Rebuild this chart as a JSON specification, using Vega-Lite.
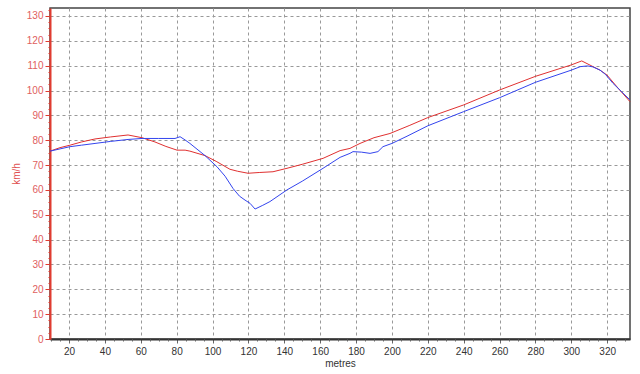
{
  "$schema": "https://vega.github.io/schema/vega-lite/v6.json",
  "autosize": {"type": "none"},
  "width": 580,
  "height": 331,
  "padding": {"left": 50, "top": 8, "right": 10, "bottom": 35},
  "background": "white",
  "config": {
    "view": {"stroke": "#444444", "strokeWidth": 1.5},
    "font": "Liberation Sans"
  },
  "data": {
    "values": [
      {"m": 9.4, "v": 75.6, "s": "red"},
      {"m": 15, "v": 77, "s": "red"},
      {"m": 20.6, "v": 78, "s": "red"},
      {"m": 27, "v": 79.3, "s": "red"},
      {"m": 34.5, "v": 80.5, "s": "red"},
      {"m": 43, "v": 81.3, "s": "red"},
      {"m": 52.9, "v": 82.1, "s": "red"},
      {"m": 60.7, "v": 81, "s": "red"},
      {"m": 67.9, "v": 79.3, "s": "red"},
      {"m": 74, "v": 77.5, "s": "red"},
      {"m": 80.2, "v": 76, "s": "red"},
      {"m": 84.7, "v": 76, "s": "red"},
      {"m": 87.4, "v": 75.6, "s": "red"},
      {"m": 95.8, "v": 73.8, "s": "red"},
      {"m": 102, "v": 71.5, "s": "red"},
      {"m": 109.7, "v": 68.3, "s": "red"},
      {"m": 114, "v": 67.5, "s": "red"},
      {"m": 119.8, "v": 66.7, "s": "red"},
      {"m": 126, "v": 67, "s": "red"},
      {"m": 133.7, "v": 67.3, "s": "red"},
      {"m": 141.5, "v": 68.7, "s": "red"},
      {"m": 150, "v": 70.3, "s": "red"},
      {"m": 161.6, "v": 72.7, "s": "red"},
      {"m": 171.1, "v": 75.8, "s": "red"},
      {"m": 176.6, "v": 76.7, "s": "red"},
      {"m": 182.2, "v": 78.7, "s": "red"},
      {"m": 190, "v": 81, "s": "red"},
      {"m": 198.9, "v": 82.7, "s": "red"},
      {"m": 210, "v": 86, "s": "red"},
      {"m": 220, "v": 89.1, "s": "red"},
      {"m": 240, "v": 94.2, "s": "red"},
      {"m": 260, "v": 100.2, "s": "red"},
      {"m": 280, "v": 105.7, "s": "red"},
      {"m": 300, "v": 110.3, "s": "red"},
      {"m": 305.8, "v": 111.9, "s": "red"},
      {"m": 312.1, "v": 109.6, "s": "red"},
      {"m": 316, "v": 108.2, "s": "red"},
      {"m": 319.9, "v": 106.2, "s": "red"},
      {"m": 326, "v": 101, "s": "red"},
      {"m": 332.7, "v": 95.5, "s": "red"},
      {"m": 9.4, "v": 75.6, "s": "blue"},
      {"m": 15, "v": 76.5, "s": "blue"},
      {"m": 20.6, "v": 77.4, "s": "blue"},
      {"m": 27, "v": 78, "s": "blue"},
      {"m": 34.5, "v": 78.7, "s": "blue"},
      {"m": 43, "v": 79.5, "s": "blue"},
      {"m": 52.9, "v": 80.3, "s": "blue"},
      {"m": 60.7, "v": 80.7, "s": "blue"},
      {"m": 70, "v": 80.7, "s": "blue"},
      {"m": 79.1, "v": 80.7, "s": "blue"},
      {"m": 81.9, "v": 81.4, "s": "blue"},
      {"m": 84.7, "v": 80.1, "s": "blue"},
      {"m": 87.4, "v": 78.7, "s": "blue"},
      {"m": 95.8, "v": 73.8, "s": "blue"},
      {"m": 102.5, "v": 69.3, "s": "blue"},
      {"m": 107, "v": 65.5, "s": "blue"},
      {"m": 111.4, "v": 60.6, "s": "blue"},
      {"m": 115, "v": 57.5, "s": "blue"},
      {"m": 118.1, "v": 55.9, "s": "blue"},
      {"m": 120.9, "v": 54.6, "s": "blue"},
      {"m": 123.7, "v": 52.3, "s": "blue"},
      {"m": 128, "v": 53.8, "s": "blue"},
      {"m": 132, "v": 55.3, "s": "blue"},
      {"m": 141.5, "v": 60, "s": "blue"},
      {"m": 150, "v": 63.5, "s": "blue"},
      {"m": 161.6, "v": 68.7, "s": "blue"},
      {"m": 171.1, "v": 73.1, "s": "blue"},
      {"m": 176.6, "v": 74.7, "s": "blue"},
      {"m": 178.3, "v": 75.4, "s": "blue"},
      {"m": 183, "v": 75.2, "s": "blue"},
      {"m": 187.8, "v": 74.7, "s": "blue"},
      {"m": 192.2, "v": 75.4, "s": "blue"},
      {"m": 195, "v": 77.4, "s": "blue"},
      {"m": 200, "v": 78.7, "s": "blue"},
      {"m": 208.4, "v": 81.6, "s": "blue"},
      {"m": 220, "v": 85.8, "s": "blue"},
      {"m": 240, "v": 91.5, "s": "blue"},
      {"m": 260, "v": 97.1, "s": "blue"},
      {"m": 280, "v": 103.3, "s": "blue"},
      {"m": 300, "v": 108.2, "s": "blue"},
      {"m": 305, "v": 109.6, "s": "blue"},
      {"m": 309, "v": 109.9, "s": "blue"},
      {"m": 312, "v": 109.5, "s": "blue"},
      {"m": 316, "v": 108.2, "s": "blue"},
      {"m": 319, "v": 106.5, "s": "blue"},
      {"m": 323.2, "v": 102.9, "s": "blue"},
      {"m": 332.7, "v": 96.2, "s": "blue"}
    ]
  },
  "layer": [
    {
      "mark": {"type": "line", "strokeWidth": 1, "interpolate": "linear"},
      "encoding": {
        "x": {
          "field": "m", "type": "quantitative",
          "scale": {"domain": [9.4, 332.7], "nice": false, "zero": false},
          "axis": {
            "title": "metres", "titleColor": "#333333", "titleFontSize": 10, "titleFontWeight": "normal", "titlePadding": 2,
            "values": [20, 40, 60, 80, 100, 120, 140, 160, 180, 200, 220, 240, 260, 280, 300, 320],
            "labelColor": "#333333", "labelFontSize": 10, "labelPadding": 3,
            "domainColor": "#333333", "domainWidth": 2,
            "tickColor": "#666666", "tickSize": 4,
            "grid": true, "gridColor": "#999999", "gridDash": [3, 3], "gridWidth": 1
          }
        },
        "y": {
          "field": "v", "type": "quantitative",
          "scale": {"domain": [0, 133.2], "nice": false},
          "axis": {
            "title": "km/h", "titleColor": "#e05050", "titleFontSize": 10, "titleFontWeight": "normal", "titlePadding": 5,
            "values": [0, 10, 20, 30, 40, 50, 60, 70, 80, 90, 100, 110, 120, 130],
            "labelColor": "#e06060", "labelFontSize": 10, "labelPadding": 2,
            "domainColor": "#e03c31", "domainWidth": 2,
            "tickColor": "#e03c31", "tickSize": 5,
            "grid": true, "gridColor": "#999999", "gridDash": [3, 3], "gridWidth": 1
          }
        },
        "color": {
          "field": "s", "type": "nominal",
          "scale": {"domain": ["red", "blue"], "range": ["#e03030", "#3344ee"]},
          "legend": null
        },
        "order": {"field": "m", "type": "quantitative"}
      }
    },
    {
      "mark": {"type": "point", "opacity": 0},
      "encoding": {
        "x": {
          "field": "m", "type": "quantitative",
          "axis": {
            "orient": "bottom", "title": null, "labels": false, "grid": false, "domain": false,
            "values": [10, 15, 25, 30, 35, 45, 50, 55, 65, 70, 75, 85, 90, 95, 105, 110, 115, 125, 130, 135, 145, 150, 155, 165, 170, 175, 185, 190, 195, 205, 210, 215, 225, 230, 235, 245, 250, 255, 265, 270, 275, 285, 290, 295, 305, 310, 315, 325, 330],
            "tickColor": "#666666", "tickSize": 2
          }
        },
        "y": {
          "field": "v", "type": "quantitative",
          "axis": {
            "orient": "left", "title": null, "labels": false, "grid": false, "domain": false,
            "values": [2.5, 5, 7.5, 12.5, 15, 17.5, 22.5, 25, 27.5, 32.5, 35, 37.5, 42.5, 45, 47.5, 52.5, 55, 57.5, 62.5, 65, 67.5, 72.5, 75, 77.5, 82.5, 85, 87.5, 92.5, 95, 97.5, 102.5, 105, 107.5, 112.5, 115, 117.5, 122.5, 125, 127.5, 132.5],
            "tickColor": "#e03c31", "tickSize": 2
          }
        }
      }
    }
  ],
  "resolve": {"axis": {"x": "independent", "y": "independent"}}
}
